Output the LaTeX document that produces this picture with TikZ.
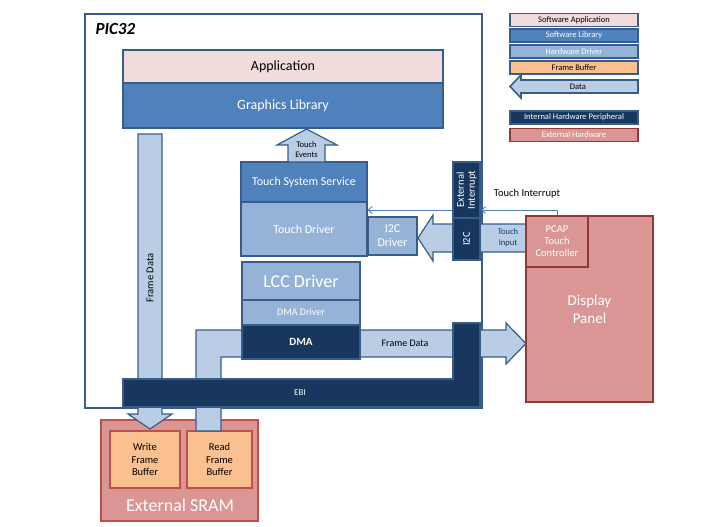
\documentclass[tikz,border=0pt]{standalone}
\usepackage{fontspec}
\setmainfont{Carlito}
\usepackage{tikz}
\usetikzlibrary{arrows.meta}
\definecolor{picline}{RGB}{56, 93, 138}
\definecolor{apppink}{RGB}{242, 220, 219}
\definecolor{libblue}{RGB}{79, 129, 189}
\definecolor{drvblue}{RGB}{149, 179, 215}
\definecolor{buforange}{RGB}{250, 192, 144}
\definecolor{periphnavy}{RGB}{23, 55, 94}
\definecolor{datafill}{RGB}{185, 205, 229}
\definecolor{exthw}{RGB}{217, 150, 148}
\definecolor{exthwline}{RGB}{149, 55, 53}
\definecolor{sramline}{RGB}{192, 80, 77}
\newcommand{\fsz}[2]{\fontsize{#1}{#2}\selectfont}
\tikzset{
  blk/.style={draw=picline, line width=1.2pt, inner sep=0pt, align=center},
  swapp/.style={blk, fill=apppink},
  swlib/.style={blk, fill=libblue, text=white},
  hwdrv/.style={blk, fill=drvblue, text=white},
  periph/.style={blk, fill=periphnavy, text=white},
  exthard/.style={draw=exthwline, line width=2pt, fill=exthw, text=white, inner sep=0pt, align=center},
  framebuf/.style={draw=sramline, line width=1.5pt, fill=buforange, inner sep=0pt, align=center},
  dataarrow/.style={draw=picline, line width=1.2pt, fill=datafill},
  irqline/.style={draw=libblue, line width=0.9pt, -{Straight Barb[length=4pt,width=7pt]}},
  legend/.style={draw=picline, line width=1.6pt, inner sep=0pt, minimum width=128pt, minimum height=13pt, font=\fsz{8.5}{10}}
}

\begin{document}
\begin{tikzpicture}[x=1pt,y=-1pt]
\useasboundingbox (0,0) rectangle (712,527);

% PIC32 frame
\node[draw=picline, line width=1.2pt, inner sep=0pt, minimum width=397pt, minimum height=394pt] (pic) at (283.5,211) {};
\node[anchor=west, font=\fsz{17}{19}\bfseries\itshape] (pictitle) at (92,29) {PIC32};

% External SRAM
\node[draw=sramline, line width=2pt, fill=exthw, inner sep=0pt, minimum width=157pt, minimum height=101pt] (sram) at (179.5,470.5) {};
\node[text=white, font=\fsz{18}{20}] (sramlabel) at (180,505) {External SRAM};
\node[framebuf, minimum width=70pt, minimum height=57pt, font=\fsz{10.5}{12.5}] (wbuf) at (145,459.5) {Write\\Frame\\Buffer};
\node[framebuf, minimum width=65pt, minimum height=57pt, font=\fsz{10.5}{12.5}] (rbuf) at (219.5,459.5) {Read\\Frame\\Buffer};

% Frame data paths
\draw[dataarrow] (138,134) -- (162,134) -- (162,414) -- (172,414) -- (150,429) -- (128,414) -- (138,414) -- cycle;
\node[rotate=90, font=\fsz{10.5}{12}] (fdwrite) at (150,278) {Frame Data};
\draw[dataarrow] (196,431) -- (196,330) -- (506,330) -- (506,323) -- (526,343.5) -- (506,364) -- (506,357) -- (221,357) -- (221,431) -- cycle;
\node[font=\fsz{10}{12}] (fdread) at (405,343.5) {Frame Data};

% EBI
\draw[fill=periphnavy, draw=picline, line width=1.2pt] (123,379) -- (453,379) -- (453,323) -- (480,323) -- (480,407) -- (123,407) -- cycle;
\node[text=white, font=\fsz{9}{11}] (ebi) at (300,393) {EBI};

% Application and graphics library
\node[swapp, minimum width=320pt, minimum height=33pt, font=\fsz{14}{16}] (app) at (283,66.5) {Application};
\node[swlib, minimum width=320pt, minimum height=45pt, font=\fsz{14}{16}] (gfx) at (283,105.5) {Graphics Library};

% Touch stack
\node[swlib, minimum width=126pt, minimum height=40pt, font=\fsz{12}{14}] (tss) at (304,182) {Touch System Service};
\node[hwdrv, minimum width=126pt, minimum height=54pt, font=\fsz{12}{14}] (tdrv) at (304,229) {Touch Driver};
\node[hwdrv, minimum width=49pt, minimum height=38pt, font=\fsz{12}{14}] (i2cdrv) at (392.5,236) {I2C\\Driver};
\draw[dataarrow] (288,162) -- (288,145) -- (277,145) -- (306.5,129) -- (337,145) -- (325,145) -- (325,162) -- cycle;
\node[align=center, inner sep=0pt, font=\fsz{8.5}{10}] (tevents) at (306.5,150) {Touch\\Events};

% Display stack
\node[hwdrv, minimum width=118pt, minimum height=38pt, font=\fsz{18}{20}] (lcc) at (301,281) {LCC Driver};
\node[hwdrv, minimum width=118pt, minimum height=25pt, font=\fsz{10}{12}] (dmadrv) at (301,312.5) {DMA Driver};
\node[periph, minimum width=118pt, minimum height=34pt, font=\fsz{11}{13}\bfseries] (dma) at (301,342) {DMA};

% Touch input
\draw[dataarrow] (527,224) -- (433,224) -- (433,215) -- (418,238) -- (433,261) -- (433,252) -- (527,252) -- cycle;
\node[align=center, inner sep=0pt, font=\fsz{8.5}{11}, text=periphnavy] (tinput) at (508,238) {Touch\\Input};
\node[periph, minimum width=27pt, minimum height=56pt, font=\fsz{10.5}{11}] (extint) at (466.5,190) {};
\node[rotate=90, text=white, align=center, font=\fsz{10.5}{11}] (extintlabel) at (extint) {External\\Interrupt};
\node[periph, minimum width=27pt, minimum height=42pt] (i2c) at (466.5,239) {};
\node[rotate=90, text=white, font=\fsz{10.5}{12}] (i2clabel) at (i2c) {I2C};

% Display panel
\node[exthard, minimum width=127pt, minimum height=186pt, font=\fsz{15}{18}] (panel) at (589.5,309) {Display\\Panel};
\node[exthard, minimum width=62pt, minimum height=51pt, font=\fsz{10.5}{12}] (pcap) at (557,241.5) {PCAP\\Touch\\Controller};

% Touch interrupt
\coordinate (irq) at (481,210);
\draw[irqline] (pcap.north) |- (irq);
\draw[irqline] (extint.west |- irq) -- (tdrv.east |- irq);
\node[font=\fsz{10.5}{12}] (tirq) at (527,194) {Touch Interrupt};

% Legend
\node[legend, fill=apppink] (lgapp) at (574,20) {Software Application};
\node[legend, fill=libblue, text=white] (lglib) at (574,35.5) {Software Library};
\node[legend, fill=drvblue, text=white] (lgdrv) at (574,51.5) {Hardware Driver};
\node[legend, fill=buforange] (lgbuf) at (574,67.5) {Frame Buffer};
\draw[dataarrow, line width=1.6pt] (638,80) -- (521,80) -- (521,75) -- (510,86.5) -- (521,98) -- (521,93) -- (638,93) -- cycle;
\node[font=\fsz{8.5}{10}] (lgdata) at (578,86.5) {Data};
\node[legend, fill=periphnavy, text=white] (lgperiph) at (574,117.5) {Internal Hardware Peripheral};
\node[legend, draw=exthwline, fill=exthw, text=white] (lgext) at (574,135) {External Hardware};
\end{tikzpicture}
\end{document}
